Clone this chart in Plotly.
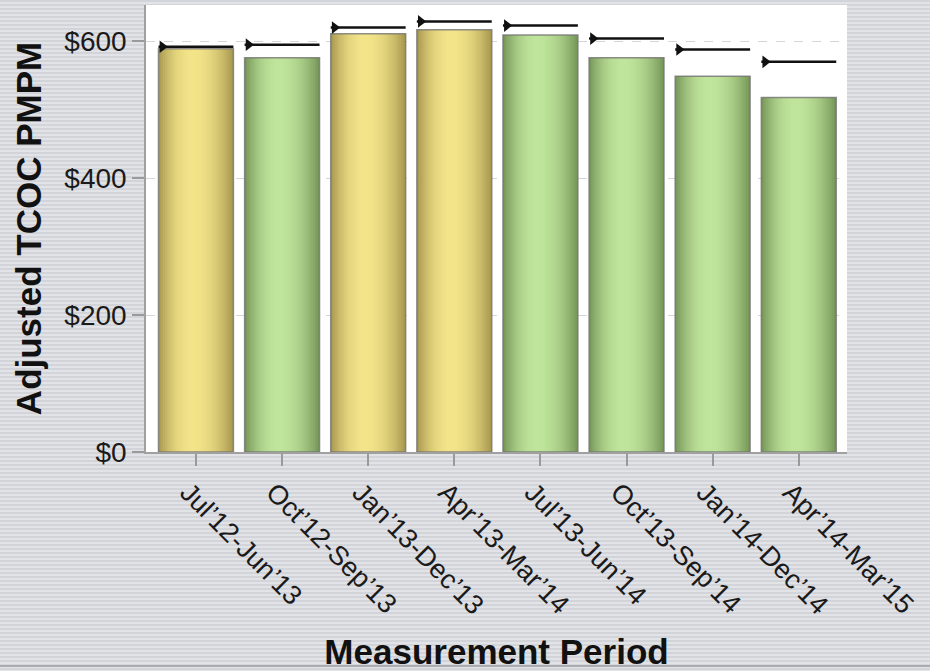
import plotly.graph_objects as go

# ---- data -------------------------------------------------------------
periods = [
    "Jul’12-Jun’13", "Oct’12-Sep’13", "Jan’13-Dec’13", "Apr’13-Mar’14",
    "Jul’13-Jun’14", "Oct’13-Sep’14", "Jan’14-Dec’14", "Apr’14-Mar’15",
]
tcoc_pmpm = [589, 576, 611, 617, 609, 576, 549, 518]
target_pmpm = [592, 595, 620, 629, 623, 604, 588, 570]
bar_group = ["gold", "green", "gold", "gold", "green", "green", "green", "green"]
y_tick_values = [0, 200, 400, 600]
y_tick_labels = ["$0", "$200", "$400", "$600"]

# ---- styling ----------------------------------------------------------
FONT = "Liberation Sans, Arial, sans-serif"
palettes = {
    "gold": ((166, 150, 78), (243, 228, 138)),
    "green": ((116, 148, 86), (191, 228, 155)),
}
BAR_W = 0.87
N_STRIPS = 34
W, H = 930, 671
M_L, M_R, M_T, M_B = 146, 83, 5, 219

xs = list(range(len(periods)))


def shade(group, t):
    """Cylinder-like shading across a bar: dark edges, light band left of centre."""
    dark, light = palettes[group]
    peak = 0.45
    d = (t - peak) / peak if t < peak else (t - peak) / (1 - peak)
    mix = 1 - abs(d) ** 2.0
    c = [round(a + (b - a) * mix) for a, b in zip(dark, light)]
    return f"rgb({c[0]},{c[1]},{c[2]})"


fig = go.Figure()

# gradient-filled bars built from thin vertical strips
sw = BAR_W / N_STRIPS
for k in range(N_STRIPS):
    t = (k + 0.5) / N_STRIPS
    fig.add_trace(go.Bar(
        x=xs, y=tcoc_pmpm,
        width=min(sw * 1.6, BAR_W - k * sw),
        offset=-BAR_W / 2 + k * sw,
        marker=dict(color=[shade(g, t) for g in bar_group], line_width=0),
        hoverinfo="skip", showlegend=False,
    ))

# bar outlines
fig.add_trace(go.Bar(
    x=xs, y=tcoc_pmpm, width=BAR_W,
    marker=dict(color="rgba(0,0,0,0)",
                line=dict(color="rgba(115,115,115,0.8)", width=1.5)),
    hovertemplate="%{y:$,.0f}<extra></extra>", showlegend=False,
))

# target lines with a right-pointing marker at the left end
tx, ty = [], []
for i, v in zip(xs, target_pmpm):
    tx += [i - BAR_W / 2, i + BAR_W / 2, None]
    ty += [v, v, None]
fig.add_trace(go.Scatter(
    x=tx, y=ty, mode="lines",
    line=dict(color="#111111", width=2.5),
    hoverinfo="skip", showlegend=False,
))
fig.add_trace(go.Scatter(
    x=[i - BAR_W / 2 + 0.045 for i in xs], y=target_pmpm, mode="markers",
    marker=dict(symbol="triangle-right", size=11, color="#111111"),
    hovertemplate="Target %{y:$,.0f}<extra></extra>", showlegend=False,
))

# striped grey page background, then a white panel behind the plot area
pw = W - M_L - M_R
ph = H - M_T - M_B
shapes = []
for py in range(0, H, 4):
    shapes.append(dict(
        type="rect", xref="paper", yref="paper", layer="below",
        x0=-M_L / pw, x1=1 + M_R / pw,
        y0=(H - M_B - (py + 2)) / ph, y1=(H - M_B - py) / ph,
        line_width=0, fillcolor="#d2d4d9",
    ))
shapes.append(dict(
    type="rect", xref="paper", yref="paper", layer="below",
    x0=0, x1=1, y0=0, y1=1, line_width=0, fillcolor="white",
))
shapes.append(dict(
    type="rect", xref="paper", yref="paper", layer="below",
    x0=-M_L / pw, x1=1 + M_R / pw,
    y0=(H - M_B - 667) / ph, y1=(H - M_B - 665) / ph,
    line_width=0, fillcolor="#a9abb0",
))

fig.update_layout(
    width=W, height=H,
    margin=dict(l=M_L, r=M_R, t=M_T, b=M_B, pad=0, autoexpand=False),
    paper_bgcolor="#e2e3e7",
    plot_bgcolor="white",
    barmode="overlay",
    font=dict(family=FONT, color="#1a1a1a"),
    shapes=shapes,
    xaxis=dict(
        range=[-0.58, 7.56], automargin=False,
        tickmode="array", tickvals=xs, ticktext=periods,
        tickangle=45, ticklabelshift=-8,
        ticks="outside", ticklen=12, tickcolor="#9a9a9a", tickwidth=1.5,
        showline=True, linecolor="#a0a0a0", linewidth=1.5,
        showgrid=False, zeroline=False,
        tickfont=dict(size=27, color="#1a1a1a"),
        title=dict(text="Measurement Period",
                   font=dict(size=35, weight="bold", color="#111111"),
                   standoff=27),
    ),
    yaxis=dict(
        range=[0, 653], automargin=False,
        tickmode="array", tickvals=y_tick_values, ticktext=y_tick_labels,
        ticks="outside", ticklen=12, tickcolor="#9a9a9a", tickwidth=1.5,
        showline=True, linecolor="#a0a0a0", linewidth=1.5,
        showgrid=True, gridcolor="#d6d6d6", griddash="dash", gridwidth=1,
        zeroline=False,
        tickfont=dict(size=28, color="#1a1a1a"),
        title=dict(text="Adjusted TCOC PMPM",
                   font=dict(size=35, weight="bold", color="#111111"),
                   standoff=12),
    ),
)

fig.write_html("out.html")
